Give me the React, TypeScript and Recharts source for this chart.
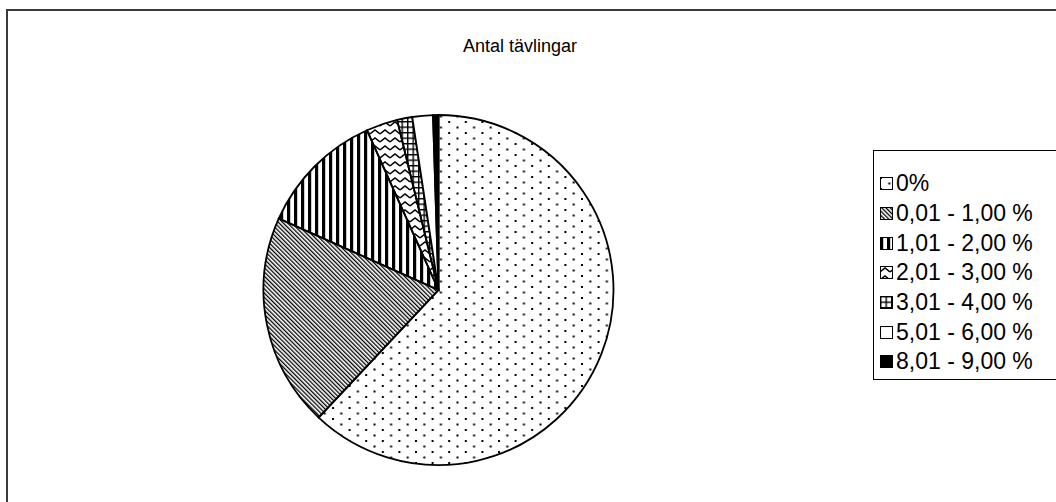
import { PieChart, Pie, Cell, Legend } from "recharts";

// Antal tävlingar – share per interval
const categories = [
  "0%",
  "0,01 - 1,00 %",
  "1,01 - 2,00 %",
  "2,01 - 3,00 %",
  "3,01 - 4,00 %",
  "5,01 - 6,00 %",
  "8,01 - 9,00 %",
];
const shares = [62.0, 19.7, 11.6, 2.9, 1.4, 1.9, 0.5];
const fills = [
  "url(#pDots)",
  "url(#pDiag)",
  "url(#pVert)",
  "url(#pZig)",
  "url(#pGrid)",
  "#ffffff",
  "#000000",
];

const data = categories.map((name, i) => ({ name, value: shares[i] }));

const font = "'Liberation Sans', Arial, sans-serif";

function LegendBox(props: any) {
  const payload = props.payload || [];
  return (
    <div
      style={{
        borderTop: "1px solid #000",
        borderLeft: "1px solid #000",
        borderBottom: "1px solid #000",
        background: "#fff",
        width: 240,
        height: 230,
        boxSizing: "border-box",
        paddingTop: 18,
        fontFamily: font,
      }}
    >
      {payload.map((entry: any, i: number) => (
        <div
          key={entry.value}
          style={{ display: "flex", alignItems: "center", height: 29.7, paddingLeft: 6 }}
        >
          <svg width={13} height={13}>
            <rect x={0.5} y={0.5} width={12} height={12} fill={fills[i]} stroke="#000" />
          </svg>
          <span style={{ marginLeft: 3, fontSize: 23, color: "#000", whiteSpace: "nowrap" }}>
            {entry.value}
          </span>
        </div>
      ))}
    </div>
  );
}

export default function App() {
  return (
    <div
      style={{
        position: "absolute",
        left: 0,
        top: 0,
        width: 1056,
        height: 502,
        overflow: "hidden",
        background: "#fff",
      }}
    >
      <div
        style={{
          position: "absolute",
          left: 6,
          top: 9,
          width: 1100,
          height: 600,
          border: "2px solid #3a3a3a",
        }}
      />
      <div
        style={{
          position: "absolute",
          left: 0,
          width: 1040,
          top: 36,
          textAlign: "center",
          fontFamily: font,
          fontSize: 18,
          color: "#000",
        }}
      >
        Antal tävlingar
      </div>
      <div style={{ position: "absolute", left: 0, top: 0 }}>
        <PieChart width={1140} height={502} margin={{ top: 0, right: 0, bottom: 0, left: 0 }}>
          <defs>
            <pattern id="pDots" width={16.6} height={11} patternUnits="userSpaceOnUse">
              <rect x={0} y={0} width={2} height={2} fill="#000" />
              <rect x={8.3} y={5.5} width={2} height={2} fill="#000" />
            </pattern>
            <pattern
              id="pDiag"
              width={3}
              height={3}
              patternUnits="userSpaceOnUse"
              patternTransform="rotate(-45)"
            >
              <rect x={0} y={0} width={1.3} height={3} fill="#000" />
            </pattern>
            <pattern id="pVert" width={7} height={7} patternUnits="userSpaceOnUse">
              <rect x={0} y={0} width={3.2} height={7} fill="#000" />
            </pattern>
            <pattern id="pZig" width={10} height={8} patternUnits="userSpaceOnUse">
              <polyline points="0,6 5,2 10,6" fill="none" stroke="#000" strokeWidth={1.6} />
            </pattern>
            <pattern id="pGrid" width={5.5} height={5.5} patternUnits="userSpaceOnUse">
              <rect x={0} y={0} width={5.5} height={1.4} fill="#000" />
              <rect x={0} y={0} width={1.4} height={5.5} fill="#000" />
            </pattern>
          </defs>
          <Pie
            data={data}
            dataKey="value"
            nameKey="name"
            cx={438.5}
            cy={290}
            outerRadius={175}
            startAngle={90}
            endAngle={-270}
            stroke="#000"
            strokeWidth={1.8}
            isAnimationActive={false}
          >
            {data.map((d, i) => (
              <Cell key={d.name} fill={fills[i]} />
            ))}
          </Pie>
          <Legend
            layout="vertical"
            align="right"
            verticalAlign="middle"
            content={<LegendBox />}
            wrapperStyle={{ left: 873, top: 150, right: "auto", width: 240 }}
          />
        </PieChart>
      </div>
    </div>
  );
}
